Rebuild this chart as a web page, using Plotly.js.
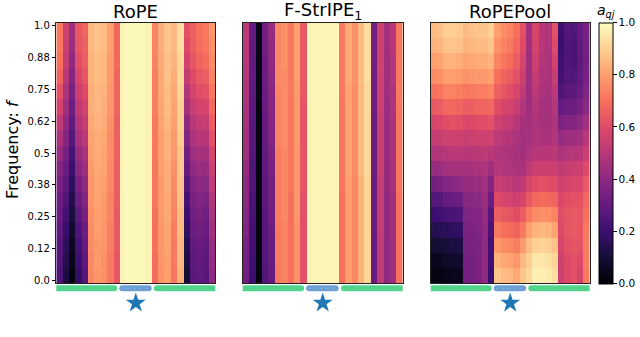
<!DOCTYPE html>
<html><head><meta charset="utf-8">
<script src="https://cdn.plot.ly/plotly-3.0.1.min.js"></script>
<style>html,body{margin:0;padding:0;background:#fff}#chart{width:640px;height:337px}</style>
</head><body><div id="chart"></div>
<script>
// ---------------- data ----------------
const panelTitles = ['RoPE', 'F-StrIPE<sub>1</sub>', 'RoPEPool'];
const keyIndex = [0,1,2,3,4,5,6,7,8,9,10,11,12,13,14,15,16,17,18,19,20,21,22,23,24];
const queryKey = 12;
// frequencies, listed top (1.0) to bottom (0.0)
const freqs = [1.0,0.9375,0.875,0.8125,0.75,0.6875,0.625,0.5625,0.5,0.4375,0.375,0.3125,0.25,0.1875,0.125,0.0625,0.0];
const freqTickVals = [0, 0.125, 0.25, 0.375, 0.5, 0.625, 0.75, 0.875, 1.0];
const freqTickText = ['0.0','0.12','0.25','0.38','0.5','0.62','0.75','0.88','1.0'];
const cbTickVals = [0, 0.2, 0.4, 0.6, 0.8, 1.0];
const cbTickText = ['0.0','0.2','0.4','0.6','0.8','1.0'];

// each inner array = one key column, values from f=1.0 (top) down to f=0.0 (bottom)
const ropeCols = [
 [0.72,0.72,0.70,0.67,0.62,0.57,0.52,0.47,0.42,0.38,0.35,0.32,0.30,0.28,0.26,0.25,0.24],
 [0.56,0.55,0.53,0.50,0.47,0.44,0.41,0.38,0.34,0.31,0.28,0.25,0.22,0.19,0.16,0.14,0.12],
 [0.44,0.43,0.41,0.38,0.35,0.32,0.29,0.26,0.23,0.20,0.17,0.14,0.11,0.08,0.06,0.04,0.03],
 [0.64,0.63,0.61,0.58,0.55,0.52,0.49,0.46,0.42,0.39,0.35,0.32,0.28,0.25,0.22,0.20,0.18],
 [0.67,0.66,0.65,0.63,0.60,0.57,0.54,0.51,0.47,0.44,0.41,0.38,0.35,0.32,0.30,0.28,0.26],
 [0.85,0.85,0.84,0.84,0.83,0.83,0.82,0.81,0.80,0.79,0.78,0.78,0.77,0.76,0.76,0.75,0.75],
 [0.87,0.87,0.86,0.86,0.85,0.85,0.84,0.83,0.83,0.82,0.81,0.81,0.80,0.80,0.79,0.79,0.78],
 [0.86,0.86,0.85,0.85,0.84,0.83,0.83,0.82,0.81,0.81,0.80,0.79,0.79,0.78,0.78,0.77,0.77],
 [0.80,0.80,0.79,0.79,0.78,0.78,0.77,0.76,0.76,0.75,0.75,0.74,0.74,0.73,0.73,0.72,0.72],
 [0.68,0.68,0.68,0.67,0.67,0.67,0.66,0.66,0.66,0.65,0.65,0.65,0.64,0.64,0.64,0.63,0.63],
 [0.98,0.98,0.98,0.98,0.98,0.98,0.98,0.98,0.98,0.98,0.98,0.98,0.98,0.98,0.98,0.98,0.98],
 [0.99,0.99,0.99,0.99,0.99,0.99,0.99,0.99,0.99,0.99,0.99,0.99,0.99,0.99,0.99,0.99,0.99],
 [0.99,0.99,0.99,0.99,0.99,0.99,0.99,0.99,0.99,0.99,0.99,0.99,0.99,0.99,0.99,0.99,0.99],
 [0.99,0.99,0.99,0.99,0.99,0.99,0.99,0.99,0.99,0.99,0.99,0.99,0.99,0.99,0.99,0.99,0.99],
 [0.98,0.98,0.98,0.98,0.98,0.98,0.98,0.98,0.98,0.98,0.98,0.98,0.98,0.98,0.98,0.98,0.98],
 [0.74,0.74,0.74,0.73,0.73,0.73,0.72,0.72,0.72,0.71,0.71,0.71,0.70,0.70,0.70,0.69,0.69],
 [0.83,0.83,0.82,0.82,0.82,0.81,0.81,0.80,0.80,0.80,0.79,0.79,0.79,0.78,0.78,0.78,0.77],
 [0.88,0.88,0.87,0.87,0.86,0.86,0.85,0.84,0.84,0.83,0.83,0.82,0.82,0.81,0.81,0.80,0.80],
 [0.85,0.85,0.84,0.83,0.82,0.81,0.80,0.79,0.78,0.77,0.76,0.75,0.74,0.73,0.72,0.72,0.71],
 [0.93,0.93,0.92,0.92,0.91,0.90,0.90,0.89,0.88,0.88,0.87,0.87,0.86,0.86,0.85,0.85,0.84],
 [0.62,0.60,0.57,0.53,0.49,0.45,0.41,0.37,0.33,0.30,0.26,0.23,0.20,0.17,0.14,0.12,0.10],
 [0.66,0.65,0.63,0.60,0.57,0.54,0.50,0.47,0.44,0.41,0.38,0.35,0.33,0.31,0.29,0.28,0.27],
 [0.70,0.69,0.67,0.64,0.61,0.57,0.53,0.50,0.46,0.43,0.40,0.37,0.35,0.33,0.31,0.30,0.29],
 [0.72,0.71,0.69,0.66,0.62,0.58,0.54,0.50,0.46,0.42,0.39,0.36,0.33,0.31,0.29,0.28,0.27],
 [0.78,0.77,0.76,0.74,0.71,0.68,0.65,0.62,0.58,0.55,0.52,0.49,0.47,0.45,0.43,0.42,0.41]
];

const fstripeCols = [
 [0.52,0.51,0.50,0.49,0.48,0.47,0.46,0.45,0.44,0.42,0.41,0.40,0.38,0.37,0.35,0.34,0.33],
 [0.30,0.30,0.29,0.29,0.28,0.28,0.27,0.27,0.26,0.25,0.25,0.24,0.23,0.22,0.22,0.21,0.20],
 [0.04,0.04,0.04,0.04,0.04,0.03,0.03,0.03,0.03,0.03,0.03,0.03,0.02,0.02,0.02,0.02,0.02],
 [0.33,0.33,0.32,0.32,0.31,0.31,0.30,0.30,0.29,0.29,0.28,0.28,0.27,0.27,0.26,0.26,0.25],
 [0.42,0.41,0.41,0.40,0.39,0.38,0.38,0.37,0.36,0.35,0.34,0.34,0.33,0.32,0.31,0.31,0.30],
 [0.75,0.75,0.75,0.75,0.74,0.74,0.74,0.74,0.73,0.73,0.73,0.73,0.73,0.72,0.72,0.72,0.72],
 [0.77,0.77,0.77,0.76,0.76,0.76,0.76,0.76,0.75,0.75,0.75,0.75,0.75,0.74,0.74,0.74,0.74],
 [0.72,0.72,0.72,0.72,0.72,0.71,0.71,0.71,0.71,0.71,0.71,0.70,0.70,0.70,0.70,0.70,0.70],
 [0.80,0.80,0.80,0.80,0.79,0.79,0.79,0.79,0.78,0.78,0.78,0.78,0.78,0.77,0.77,0.77,0.77],
 [0.64,0.64,0.64,0.64,0.64,0.63,0.63,0.63,0.63,0.63,0.63,0.62,0.62,0.62,0.62,0.62,0.62],
 [0.98,0.98,0.98,0.98,0.98,0.98,0.98,0.98,0.98,0.98,0.98,0.98,0.98,0.98,0.98,0.98,0.98],
 [0.98,0.98,0.98,0.98,0.98,0.98,0.98,0.98,0.98,0.98,0.98,0.98,0.98,0.98,0.98,0.98,0.98],
 [0.98,0.98,0.98,0.98,0.98,0.98,0.98,0.98,0.98,0.98,0.98,0.98,0.98,0.98,0.98,0.98,0.98],
 [0.98,0.98,0.98,0.98,0.98,0.98,0.98,0.98,0.98,0.98,0.98,0.98,0.98,0.98,0.98,0.98,0.98],
 [0.98,0.98,0.98,0.98,0.98,0.98,0.98,0.98,0.98,0.98,0.98,0.98,0.98,0.98,0.98,0.98,0.98],
 [0.72,0.72,0.72,0.72,0.72,0.71,0.71,0.71,0.71,0.71,0.71,0.70,0.70,0.70,0.70,0.70,0.70],
 [0.82,0.82,0.82,0.82,0.81,0.81,0.81,0.81,0.81,0.81,0.80,0.80,0.80,0.80,0.80,0.80,0.80],
 [0.77,0.77,0.77,0.77,0.76,0.76,0.76,0.76,0.76,0.76,0.75,0.75,0.75,0.75,0.75,0.75,0.75],
 [0.86,0.86,0.86,0.86,0.85,0.85,0.85,0.85,0.85,0.85,0.84,0.84,0.84,0.84,0.84,0.84,0.84],
 [0.93,0.93,0.93,0.93,0.92,0.92,0.92,0.92,0.92,0.92,0.91,0.91,0.91,0.91,0.91,0.91,0.91],
 [0.34,0.34,0.34,0.33,0.33,0.33,0.32,0.32,0.32,0.32,0.31,0.31,0.31,0.31,0.30,0.30,0.30],
 [0.56,0.56,0.56,0.55,0.55,0.55,0.54,0.54,0.54,0.54,0.53,0.53,0.53,0.53,0.52,0.52,0.52],
 [0.45,0.45,0.44,0.44,0.44,0.43,0.43,0.43,0.42,0.42,0.42,0.41,0.41,0.41,0.40,0.40,0.40],
 [0.50,0.50,0.49,0.49,0.48,0.48,0.47,0.47,0.47,0.46,0.46,0.45,0.45,0.45,0.44,0.44,0.44],
 [0.72,0.72,0.72,0.72,0.72,0.71,0.71,0.71,0.71,0.71,0.71,0.70,0.70,0.70,0.70,0.70,0.70]
];

const ropepoolCols = [
 [0.86,0.84,0.80,0.76,0.70,0.64,0.58,0.53,0.48,0.42,0.34,0.26,0.20,0.14,0.09,0.05,0.03],
 [0.87,0.85,0.81,0.77,0.71,0.65,0.59,0.54,0.49,0.43,0.35,0.27,0.21,0.15,0.10,0.06,0.03],
 [0.90,0.88,0.84,0.80,0.74,0.68,0.61,0.56,0.50,0.45,0.38,0.30,0.23,0.16,0.11,0.07,0.04],
 [0.90,0.88,0.84,0.80,0.74,0.68,0.62,0.56,0.51,0.46,0.39,0.31,0.24,0.17,0.12,0.08,0.05],
 [0.89,0.87,0.83,0.79,0.73,0.67,0.61,0.56,0.51,0.46,0.40,0.32,0.25,0.18,0.12,0.08,0.05],
 [0.86,0.84,0.81,0.77,0.71,0.65,0.59,0.54,0.50,0.46,0.42,0.39,0.37,0.36,0.35,0.34,0.34],
 [0.87,0.85,0.82,0.78,0.72,0.66,0.60,0.55,0.50,0.46,0.42,0.39,0.37,0.36,0.35,0.34,0.34],
 [0.88,0.86,0.83,0.79,0.73,0.67,0.61,0.56,0.51,0.47,0.43,0.40,0.38,0.37,0.36,0.36,0.36],
 [0.88,0.86,0.83,0.79,0.73,0.67,0.61,0.56,0.52,0.48,0.45,0.43,0.42,0.41,0.41,0.41,0.41],
 [0.90,0.88,0.84,0.80,0.74,0.68,0.62,0.56,0.50,0.44,0.38,0.32,0.27,0.24,0.22,0.21,0.20],
 [0.80,0.77,0.74,0.70,0.66,0.61,0.56,0.52,0.49,0.50,0.54,0.60,0.66,0.72,0.78,0.84,0.88],
 [0.76,0.74,0.71,0.67,0.63,0.58,0.54,0.50,0.48,0.49,0.53,0.58,0.64,0.70,0.76,0.82,0.86],
 [0.74,0.72,0.69,0.65,0.61,0.57,0.53,0.49,0.47,0.48,0.52,0.57,0.63,0.69,0.75,0.81,0.85],
 [0.70,0.68,0.65,0.62,0.58,0.54,0.50,0.47,0.46,0.47,0.50,0.55,0.61,0.67,0.73,0.78,0.82],
 [0.62,0.60,0.58,0.55,0.52,0.49,0.46,0.45,0.45,0.47,0.52,0.58,0.65,0.72,0.79,0.85,0.88],
 [0.45,0.45,0.44,0.44,0.44,0.44,0.45,0.46,0.48,0.52,0.58,0.64,0.72,0.80,0.86,0.90,0.92],
 [0.58,0.57,0.55,0.53,0.51,0.49,0.48,0.48,0.50,0.55,0.61,0.68,0.76,0.84,0.90,0.95,0.97],
 [0.50,0.50,0.49,0.48,0.47,0.46,0.46,0.47,0.50,0.55,0.62,0.69,0.77,0.85,0.91,0.95,0.97],
 [0.48,0.48,0.47,0.47,0.46,0.46,0.46,0.47,0.50,0.55,0.61,0.68,0.76,0.84,0.90,0.94,0.96],
 [0.62,0.60,0.57,0.54,0.51,0.49,0.48,0.49,0.51,0.55,0.60,0.67,0.74,0.81,0.87,0.91,0.93],
 [0.20,0.20,0.21,0.22,0.25,0.30,0.36,0.42,0.47,0.52,0.56,0.59,0.61,0.60,0.58,0.56,0.55],
 [0.26,0.25,0.25,0.26,0.28,0.32,0.38,0.44,0.49,0.54,0.58,0.61,0.63,0.63,0.62,0.60,0.60],
 [0.25,0.24,0.24,0.25,0.28,0.32,0.38,0.44,0.50,0.55,0.59,0.62,0.64,0.64,0.63,0.62,0.62],
 [0.30,0.29,0.28,0.29,0.31,0.35,0.40,0.45,0.50,0.55,0.59,0.62,0.63,0.63,0.62,0.60,0.58],
 [0.35,0.34,0.34,0.35,0.37,0.40,0.45,0.50,0.55,0.60,0.64,0.68,0.70,0.72,0.73,0.73,0.72]
];

// ---------------- layout constants (pixels) ----------------
const W = 640, H = 337;
const panelX = [[56.3, 215.3], [242.7, 402.7], [430.7, 589.7]];
const panelTop = 22.7, panelBot = 283.3;
const yLo = -0.01, yHi = 1.01;
const font = 'DejaVu Sans';

const magma = [
 [0.0,'#000004'],[0.1,'#140e36'],[0.2,'#3b0f70'],[0.3,'#641a80'],[0.4,'#8c2981'],
 [0.5,'#b73779'],[0.6,'#de4968'],[0.7,'#f7705c'],[0.8,'#fe9f6d'],[0.9,'#fecf92'],[1.0,'#fcfdbf']
];

function buildZ(cols) {
  const n = freqs.length, z = [];
  for (let r = n - 1; r >= 0; r--) z.push(cols.map(c => c[r]));
  return z;
}
const nRows = freqs.length;
const yEdges = [];
for (let i = 0; i <= nRows; i++) yEdges.push(yLo + (yHi - yLo) * i / nRows);

const panels = [ropeCols, fstripeCols, ropepoolCols];
const traces = [];
const py = px => 1 - px / H;
const layout = {
  width: W, height: H,
  margin: {l: 0, r: 0, t: 0, b: 0, pad: 0},
  paper_bgcolor: '#fff', plot_bgcolor: 'rgba(0,0,0,0)',
  font: {family: font, color: '#000'},
  showlegend: false,
  annotations: [], shapes: [],
  // strip under the panels holding the query-star markers
  yaxis4: {domain: [py(314), py(292)], range: [0, 1], visible: false, fixedrange: true, anchor: 'free', position: 0}
};

panels.forEach((cols, k) => {
  const sfx = k === 0 ? '' : String(k + 1);
  const xa = 'x' + sfx, ya = 'y' + sfx;
  traces.push({
    type: 'heatmap', z: buildZ(cols), x: keyIndex, y: yEdges,
    xaxis: xa, yaxis: ya, colorscale: magma, zmin: 0, zmax: 1,
    showscale: k === 0, hoverinfo: 'skip',
    colorbar: {
      x: 599 / W, xanchor: 'left', xpad: 0, ypad: 0,
      y: py((panelTop + panelBot) / 2), yanchor: 'middle',
      len: panelBot - panelTop, lenmode: 'pixels',
      thickness: 14, thicknessmode: 'pixels',
      outlinewidth: 1, outlinecolor: '#000',
      tickvals: cbTickVals, ticktext: cbTickText,
      ticks: 'outside', ticklen: 3.5, tickwidth: 1, tickcolor: '#000',
      tickfont: {family: font, size: 10.5, color: '#000'}
    }
  });
  traces.push({
    type: 'scatter', mode: 'markers', x: [queryKey], y: [0.5],
    xaxis: xa, yaxis: 'y4', cliponaxis: false, hoverinfo: 'skip',
    marker: {symbol: 'star', size: 15, color: '#1f77b4', line: {width: 0}}
  });
  layout['xaxis' + sfx] = {
    domain: [panelX[k][0] / W, panelX[k][1] / W], anchor: ya,
    range: [-0.5, 24.5], showticklabels: false, ticks: '',
    showgrid: false, zeroline: false, showline: true, mirror: true,
    linecolor: '#222', linewidth: 1, fixedrange: true
  };
  layout['yaxis' + sfx] = {
    domain: [py(panelBot), py(panelTop)], anchor: xa,
    range: [yLo, yHi], showgrid: false, zeroline: false,
    showline: true, mirror: true, linecolor: '#222', linewidth: 1,
    tickvals: k === 0 ? freqTickVals : [], ticktext: k === 0 ? freqTickText : [],
    showticklabels: k === 0, ticks: k === 0 ? 'outside' : '',
    ticklen: 3.5, tickwidth: 1, tickcolor: '#000',
    tickfont: {family: font, size: 10, color: '#000'}, fixedrange: true
  };
  layout.annotations.push({
    xref: 'paper', yref: 'paper', x: (panelX[k][0] + panelX[k][1]) / 2 / W, y: py(11),
    text: panelTitles[k], showarrow: false, xanchor: 'center', yanchor: 'middle',
    font: {family: font, size: 18, color: '#000'}
  });
  const segs = [[-0.95, 9.1, '#52d48c'], [9.4, 14.5, '#6c9fd3'], [14.85, 24.8, '#52d48c']];
  const colPx = (panelX[k][1] - panelX[k][0]) / 25;
  const r = 3, rx = r / colPx;
  const y0 = py(291.3), y1 = py(285.3), ym = (y0 + y1) / 2;
  segs.forEach(([a, b, c]) => {
    const path = `M ${a + rx},${y1} L ${b - rx},${y1} Q ${b},${y1} ${b},${ym} Q ${b},${y0} ${b - rx},${y0} ` +
                 `L ${a + rx},${y0} Q ${a},${y0} ${a},${ym} Q ${a},${y1} ${a + rx},${y1} Z`;
    layout.shapes.push({type: 'path', xref: xa, yref: 'paper', path: path,
      fillcolor: c, line: {width: 0}, layer: 'above'});
  });
  layout.shapes.push({type: 'line', xref: xa, yref: 'paper', x0: 9.7, x1: 14.2,
    y0: ym, y1: ym, line: {color: '#88b0dc', width: 1, dash: 'dot'}, layer: 'above'});
});

layout.annotations.push({
  xref: 'paper', yref: 'paper', x: 12 / W, y: py(149), textangle: -90,
  text: 'Frequency: <i>f</i>', showarrow: false, xanchor: 'center', yanchor: 'middle',
  font: {family: font, size: 16, color: '#000'}
});
layout.annotations.push({
  xref: 'paper', yref: 'paper', x: 606 / W, y: py(11),
  text: '<i>a</i><sub><i>qj</i></sub>', showarrow: false, xanchor: 'center', yanchor: 'middle',
  font: {family: font, size: 14, color: '#000'}
});

Plotly.newPlot('chart', traces, layout, {staticPlot: true, displayModeBar: false});
</script>
</body></html>
